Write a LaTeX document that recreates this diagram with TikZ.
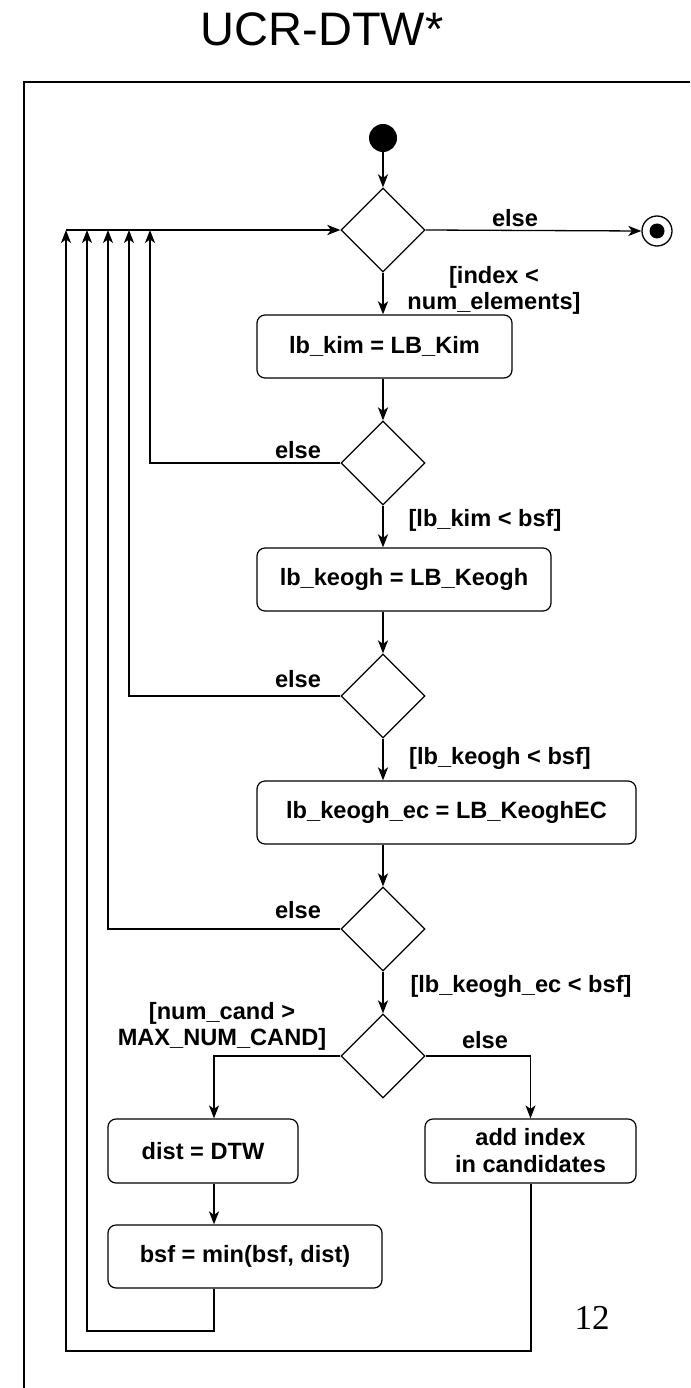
\documentclass[tikz,border=0pt]{standalone}
\usepackage{fontspec}
\setmainfont{Liberation Sans}
\newfontfamily\serifnum{Liberation Serif}
\usetikzlibrary{shapes.geometric,arrows.meta}
\begin{document}
\begin{tikzpicture}[x=1pt,y=-1pt,
  act/.style={draw,rounded corners=8pt,line width=1.2pt,minimum height=63pt,inner sep=0pt,
    font=\bfseries\fontsize{23.6}{27}\selectfont,align=center},
  dec/.style={draw,diamond,aspect=1,minimum width=84pt,minimum height=84pt,inner sep=0pt,line width=1.2pt},
  lbl/.style={font=\bfseries\fontsize{23.6}{26}\selectfont,align=center,inner sep=0pt},
  tip/.style={-{Stealth[length=13pt,width=10pt,inset=3.5pt]}},
  flow/.style={tip,line width=2pt},
  back/.style={tip,line width=1.3pt},
]
\useasboundingbox (0,0) rectangle (690,1388);
% title and frame
\node[font=\fontsize{47}{50}\selectfont,inner sep=0pt] (title) at (322,29) {UCR-DTW*};
\draw[line width=1.5pt] (690,82) -- (24,82) -- (24,1388);

% nodes
\node[circle,fill,minimum size=28pt,inner sep=0pt] (start) at (383,138) {};
\node[dec] (d1) at (383,230) {};
\node[circle,draw,line width=1.3pt,minimum size=30pt,inner sep=0pt] (end) at (657,231) {};
\node[circle,fill,minimum size=15pt,inner sep=0pt] (endin) at (end) {};
\node[act,minimum width=255pt] (box1) at (384.5,346.5) {lb\_kim = LB\_Kim};
\node[dec] (d2) at (383,463) {};
\node[act,minimum width=294pt] (box2) at (404,579.5) {lb\_keogh = LB\_Keogh};
\node[dec] (d3) at (383,696) {};
\node[act,minimum width=379pt] (box3) at (446.5,812.5) {lb\_keogh\_ec = LB\_KeoghEC};
\node[dec] (d4) at (383,929) {};
\node[dec] (d5) at (383,1056) {};
\node[act,minimum width=190pt,minimum height=64pt] (dist) at (203,1151) {dist = DTW};
\node[act,minimum width=211pt,minimum height=64pt] (add) at (530.5,1151) {add index\\in candidates};
\node[act,minimum width=274pt] (bsf) at (245,1256.5) {bsf = min(bsf, dist)};

% labels
\node[lbl] (l0) at (515,218) {else};
\node[lbl] (l1) at (494,290) {[index <\\num\_elements]};
\node[lbl] (l2) at (298,450) {else};
\node[lbl] (l3) at (485,520) {[lb\_kim < bsf]};
\node[lbl] (l4) at (298,679) {else};
\node[lbl] (l5) at (500,758) {[lb\_keogh < bsf]};
\node[lbl] (l6) at (298,910) {else};
\node[lbl] (l7) at (521,986) {[lb\_keogh\_ec < bsf]};
\node[lbl] (l8) at (222,1026) {[num\_cand >\\MAX\_NUM\_CAND]};
\node[lbl] (l9) at (485,1040) {else};
\node[font=\serifnum\fontsize{35}{35}\selectfont,inner sep=0pt] (pg) at (592,1318) {12};

% loop junctions
\coordinate (j1) at (150,230);
\coordinate (j2) at (129,230);
\coordinate (j3) at (108,230);
\coordinate (j4) at (87,230);
\coordinate (j5) at (66,230);
\coordinate (dl) at (214,1056);
\coordinate (b1) at (214,1331);
\coordinate (b2) at (531,1351);

% main flow
\draw[flow] (start) -- (d1.north);
\draw[flow] (d1.south) -- (d1.south |- box1.north);
\draw[flow] (d2.north |- box1.south) -- (d2.north);
\draw[flow] (d2.south) -- (d2.south |- box2.north);
\draw[flow] (d3.north |- box2.south) -- (d3.north);
\draw[flow] (d3.south) -- (d3.south |- box3.north);
\draw[flow] (d4.north |- box3.south) -- (d4.north);
\draw[flow] (d4.south) -- (d5.north);
\draw[back] (d1.east) -- (end.west);
\draw[back] (d5.west) -- (dl) -- (dist.north -| dl);
\draw[back] (d5.east) -| (add.north);
\draw[flow] (dist.south -| dl) -- (bsf.north -| dl);

% back edges
\draw[tip,line width=2.5pt] (j5) -- (d1.west);
\draw[back] (d2.west) -| (j1);
\draw[back] (d3.west) -| (j2);
\draw[back] (d4.west) -| (j3);
\draw[back] (bsf.south -| b1) -- (b1) -| (j4);
\draw[back] (add.south -| b2) -- (b2) -| (j5);
\end{tikzpicture}
\end{document}
